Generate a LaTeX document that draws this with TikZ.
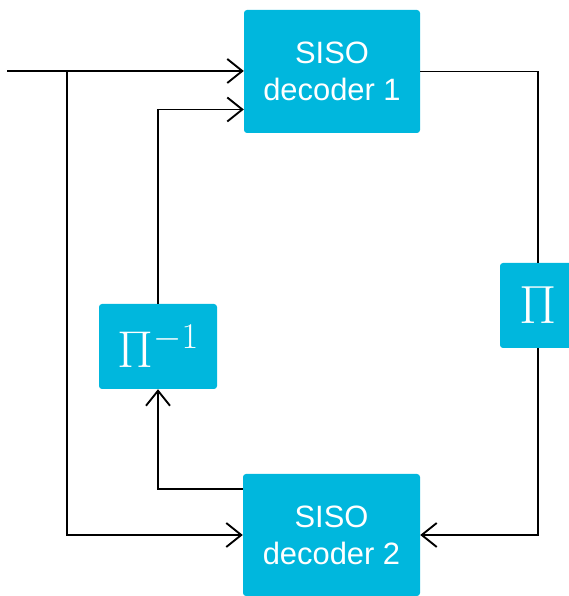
\RequirePackage{fix-cm}
\documentclass[tikz,border=0pt]{standalone}
\usepackage{fontspec}
\setsansfont{Liberation Sans}
\usepackage{xcolor}
\usetikzlibrary{positioning,calc,arrows.meta}

\definecolor{boxcyan}{RGB}{0,183,221}

\tikzset{
  block/.style={fill=boxcyan, rounded corners=3bp, inner sep=0pt, text=white,
    align=center, font=\sffamily\fontsize{31}{37}\selectfont},
  wire/.style={line width=1.9bp, black},
  arr/.style={wire, -{Straight Barb[length=15bp,width=24bp,line width=1.9bp]}}
}

\begin{document}
\begin{tikzpicture}[x=1bp, y=1bp]
  \useasboundingbox (0,0) rectangle (569,596);

  % Decoders
  \node[block, minimum width=176bp, minimum height=123bp] (dec1) at (332,524.5) {SISO\\decoder 1};
  \node[block, minimum width=177bp, minimum height=122bp] (dec2) at (331.5,61) {SISO\\decoder 2};

  % Interleavers
  \node[block, minimum width=76bp, minimum height=85bp] (pi) at (538,290.5)
    {\fontsize{54}{60}\selectfont $\Pi$};
  \node[block, minimum width=118bp, minimum height=85bp] (pinv) at (158,249.5)
    {\fontsize{52}{60}\selectfont $\Pi^{-1}$};

  % Input and its branch
  \coordinate (in) at (7,525);
  \coordinate (br) at (67,525);
  \draw[arr] (in) -- (in -| dec1.west);
  \draw[arr] (br) |- (dec2.west);

  % Forward path through the interleaver
  \draw[wire] (dec1.east) -| (pi.north);
  \draw[arr] (pi.south) |- (dec2.east);

  % Feedback through the deinterleaver
  \draw[arr] ([yshift=46bp]dec2.west) -| (pinv.south);
  \draw[arr] (pinv.north) |- ([yshift=-38bp]dec1.west);
\end{tikzpicture}
\end{document}
